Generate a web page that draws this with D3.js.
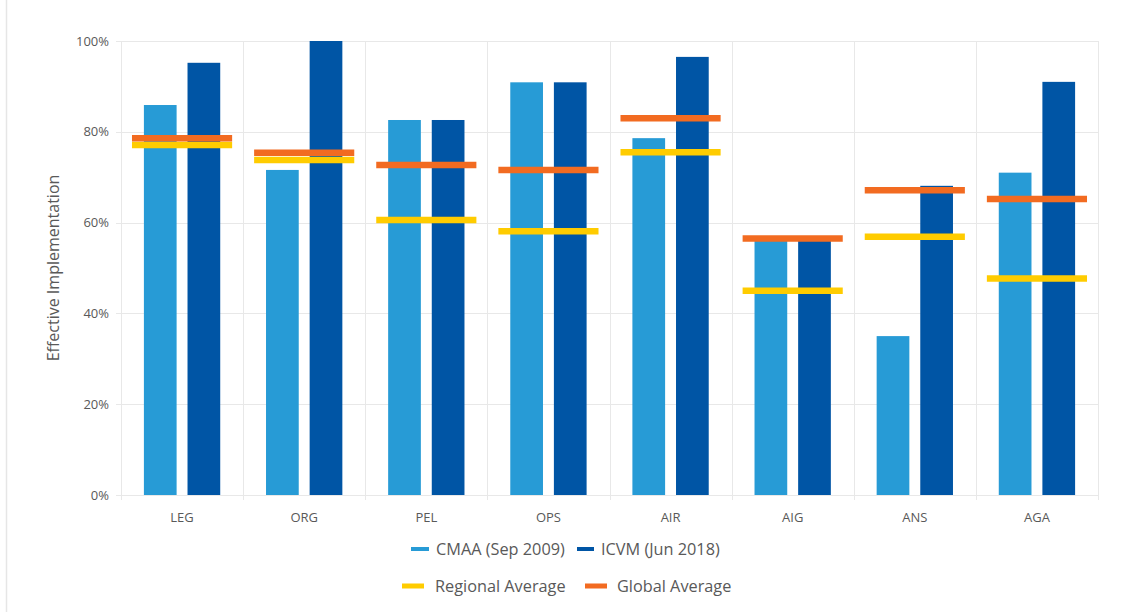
<!DOCTYPE html>
<html><head><meta charset="utf-8">
<script src="https://cdn.jsdelivr.net/npm/d3@7"></script>
<style>body{margin:0;background:#fff;}svg{display:block;font-family:"Open Sans",sans-serif;}</style>
</head><body>
<svg id="chart" width="1126" height="612"></svg>
<script>
const categories = ["LEG","ORG","PEL","OPS","AIR","AIG","ANS","AGA"];
const cmaa = [85.9, 71.6, 82.6, 90.9, 78.6, 56.2, 35.0, 71.0];
const icvm = [95.2, 100.0, 82.6, 90.9, 96.5, 56.2, 68.1, 91.0];
const regionalAvg = [77.1, 73.8, 60.6, 58.1, 75.5, 45.0, 56.9, 47.7];
const globalAvg = [78.6, 75.4, 72.7, 71.6, 83.0, 56.5, 67.1, 65.2];
const yTicks = [0, 20, 40, 60, 80, 100];
const seriesNames = ["CMAA (Sep 2009)", "ICVM (Jun 2018)"];
const lineNames = ["Regional Average", "Global Average"];

const colors = {cmaa:"#279bd6", icvm:"#0055a5", regional:"#ffcc00", global:"#f26b21"};
const textColor = "#595959";

const svg = d3.select("#chart");
const mLeft = 121, mRight = 1098, mTop = 41, mBottom = 495;

// page frame line
svg.append("line").attr("x1",6.5).attr("x2",6.5).attr("y1",0).attr("y2",612)
  .attr("stroke","#e6e6e6").attr("stroke-width",1.5);

const x = d3.scaleBand().domain(categories).range([mLeft, mRight]).padding(0);
const y = d3.scaleLinear().domain([0, 100]).range([mBottom, mTop]);

const groupW = x.bandwidth() * 0.625;
const xs = d3.scaleBand().domain(["cmaa","icvm"]).range([0, groupW]).paddingInner(0.25);
const lineW = x.bandwidth() * 0.82;

// horizontal grid
svg.append("g").selectAll("line").data(yTicks).join("line")
  .attr("x1", mLeft - 5).attr("x2", mRight)
  .attr("y1", d => Math.round(y(d)) + 0.5).attr("y2", d => Math.round(y(d)) + 0.5)
  .attr("stroke", "#e8e8e8").attr("stroke-width", 1);

// vertical grid at band boundaries
const bounds = categories.map(c => x(c)).concat([mRight]);
svg.append("g").selectAll("line").data(bounds).join("line")
  .attr("x1", d => Math.round(d) + 0.5).attr("x2", d => Math.round(d) + 0.5)
  .attr("y1", mTop).attr("y2", mBottom + 5)
  .attr("stroke", "#e8e8e8").attr("stroke-width", 1);

// y tick labels
svg.append("g").selectAll("text").data(yTicks).join("text")
  .attr("x", 109).attr("y", d => y(d)).attr("dy", "0.35em")
  .attr("text-anchor", "end").attr("fill", textColor).attr("font-size", 13)
  .text(d => d + "%");

// x labels
svg.append("g").selectAll("text").data(categories).join("text")
  .attr("x", d => x(d) + x.bandwidth()/2).attr("y", 517).attr("dy", "0.35em")
  .attr("text-anchor", "middle").attr("fill", textColor).attr("font-size", 13)
  .text(d => d);

// axis title
svg.append("text").attr("transform", "translate(53,268) rotate(-90)")
  .attr("dy", "0.35em").attr("text-anchor", "middle")
  .attr("fill", textColor).attr("font-size", 16)
  .text("Effective Implementation");

// bars
const barData = [];
categories.forEach((c, i) => {
  barData.push({c, k:"cmaa", v:cmaa[i]});
  barData.push({c, k:"icvm", v:icvm[i]});
});
svg.append("g").selectAll("rect").data(barData).join("rect")
  .attr("x", d => x(d.c) + (x.bandwidth() - groupW)/2 + xs(d.k))
  .attr("width", xs.bandwidth())
  .attr("y", d => y(d.v)).attr("height", d => y(0) - y(d.v))
  .attr("fill", d => colors[d.k]);

// average lines
function drawAvg(values, color) {
  svg.append("g").selectAll("line").data(categories).join("line")
    .attr("x1", d => x(d) + (x.bandwidth() - lineW)/2)
    .attr("x2", d => x(d) + (x.bandwidth() + lineW)/2)
    .attr("y1", (d,i) => y(values[i])).attr("y2", (d,i) => y(values[i]))
    .attr("stroke", color).attr("stroke-width", 6.5);
}
drawAvg(regionalAvg, colors.regional);
drawAvg(globalAvg, colors.global);

// legend
const legend = svg.append("g").attr("font-size", 16.3).attr("fill", textColor);
const legItems = [
  {name: seriesNames[0], color: colors.cmaa, sx: 411, sw: 18, th: 4, tx: 436, y: 549},
  {name: seriesNames[1], color: colors.icvm, sx: 577, sw: 17, th: 4, tx: 601, y: 549},
  {name: lineNames[0], color: colors.regional, sx: 402, sw: 22, th: 5, tx: 435, y: 586},
  {name: lineNames[1], color: colors.global, sx: 585, sw: 22, th: 5, tx: 617, y: 586}
];
legItems.forEach(d => {
  legend.append("rect").attr("x", d.sx).attr("y", d.y - d.th/2).attr("width", d.sw).attr("height", d.th)
    .attr("fill", d.color);
  legend.append("text").attr("x", d.tx).attr("y", d.y).attr("dy", "0.35em").text(d.name);
});
</script>
</body></html>
